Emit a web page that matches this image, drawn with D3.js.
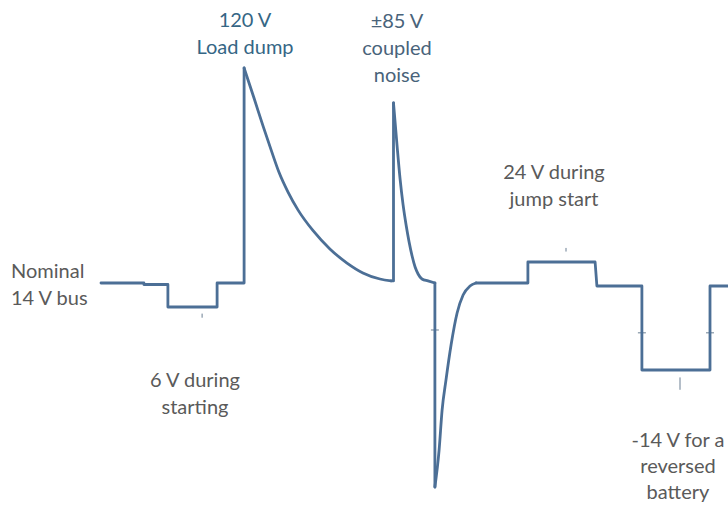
<!DOCTYPE html>
<html>
<head>
<meta charset="utf-8">
<script src="https://cdn.jsdelivr.net/npm/d3@7"></script>
<style>
  html, body { margin: 0; padding: 0; background: #ffffff; }
  svg { display: block; }
</style>
</head>
<body>
<svg id="chart" width="728" height="505"></svg>
<script>
// Automotive supply-bus transients: [time (arb. units), volts]

// Nominal bus, cranking dip, then the load-dump edge
const crankingRun = [
  [0, 14], [14.3, 14], [14.3, 13.5], [22.3, 13.5], [22.3, 6], [38.7, 6],
  [38.7, 14], [47.7, 14], [47.7, 120]
];
// Load-dump decay
const loadDumpDecay = [
  [47.7, 120], [51, 90], [54, 76.2], [56.7, 67], [59.3, 58.5], [62.3, 50.9],
  [65.7, 43.9], [70.7, 36], [76.3, 29], [82, 23.5], [87.3, 18.8], [93, 15.9],
  [96.7, 15]
];
// Edge of the positive coupled-noise spike
const noiseRise = [[96.7, 15], [97.5, 15], [97.5, 85]];
// Positive noise decay back to the bus
const noiseDecay = [
  [97.5, 85], [98.7, 68.5], [99.7, 55.8], [100.7, 45.9], [101.7, 38.2],
  [102.7, 31.7], [103.7, 26.3], [104.7, 21.6], [105.7, 18.3], [107, 15.9],
  [109, 15], [111.3, 14]
];
// Negative noise edge
const noiseFall = [[111.3, 14], [111.3, -85]];
// Recovery from the negative spike
const noiseRecovery = [
  [111.3, -85], [112.7, -62.6], [113.7, -38.3], [115, -20], [116.7, -6],
  [118.7, 4.1], [120.7, 10], [123, 13], [125, 14]
];
// Jump start plateau and reversed battery
const jumpReverseRun = [
  [125, 14], [142.3, 14], [142.3, 24], [164.7, 24], [165.3, 13], [180.3, 13],
  [180.3, -14], [203, -14], [203, 13], [212, 13]
];

// Short leader ticks: [time, volts from, volts to]
const leaderTicks = [
  [33.7, 3.9, 2.6], [155, 29.4, 28], [193, -18.5, -26]
];
// Small level marks across vertical edges: [time, volts]
const edgeMarks = [[111.3, -1.3], [180.3, -2.2], [203, -2.2]];

// Annotation text blocks
const labels = [
  { lines: ["120 V", "Load dump"], x: 245, y: 27, anchor: "middle", color: "#356685" },
  { lines: ["\u00B185 V", "coupled", "noise"], x: 397, y: 28, anchor: "middle", color: "#49637a" },
  { lines: ["Nominal", "14 V bus"], x: 11, y: 278, anchor: "start", color: "#5a5a5a" },
  { lines: ["6 V during", "starting"], x: 195, y: 387, anchor: "middle", color: "#5a5a5a" },
  { lines: ["24 V during", "jump start"], x: 554, y: 179, anchor: "middle", color: "#5a5a5a" },
  { lines: ["-14 V for a", "reversed", "battery"], x: 678, y: 447, anchor: "middle", color: "#5a5a5a", gap: 26 }
];

const svg = d3.select("#chart");

// Time axis
const x = d3.scaleLinear().domain([0, 209]).range([101, 728]);
// Schematic (piecewise) voltage axis so each labelled level sits at its drawn height
const y = d3.scaleLinear()
  .domain([-85, -14, 6, 14, 24, 85, 120])
  .range([487, 370, 307, 283, 262, 103, 68]);

const straight = d3.line().x(d => x(d[0])).y(d => y(d[1])).curve(d3.curveLinear);
const smooth = d3.line().x(d => x(d[0])).y(d => y(d[1])).curve(d3.curveMonotoneX);

// Leader ticks and edge marks
svg.append("g").attr("stroke", "#6b7f93").attr("stroke-width", 1)
  .selectAll("line").data(leaderTicks).join("line")
  .attr("x1", d => x(d[0])).attr("x2", d => x(d[0]))
  .attr("y1", d => y(d[1])).attr("y2", d => y(d[2]));
svg.append("g").attr("stroke", "#6b7f93").attr("stroke-width", 1)
  .selectAll("line").data(edgeMarks).join("line")
  .attr("x1", d => x(d[0]) - 4).attr("x2", d => x(d[0]) + 4)
  .attr("y1", d => y(d[1])).attr("y2", d => y(d[1]));

const trace = svg.append("g")
  .attr("fill", "none")
  .attr("stroke", "#4c6f96")
  .attr("stroke-width", 2.8)
  .attr("stroke-linejoin", "round")
  .attr("stroke-linecap", "round");

[[crankingRun, straight], [loadDumpDecay, smooth], [noiseRise, straight],
 [noiseDecay, smooth], [noiseFall, straight], [noiseRecovery, smooth],
 [jumpReverseRun, straight]].forEach(([pts, gen]) => {
  trace.append("path").attr("d", gen(pts));
});

labels.forEach(l => {
  const gap = l.gap || 27;
  const t = svg.append("text")
    .attr("x", l.x)
    .attr("y", l.y)
    .attr("text-anchor", l.anchor)
    .attr("fill", l.color)
    .style("font-family", "Lato, 'Open Sans', sans-serif")
    .style("font-size", "20px");
  l.lines.forEach((s, i) => {
    t.append("tspan").attr("x", l.x).attr("dy", i === 0 ? 0 : gap).text(s);
  });
});
</script>
</body>
</html>
